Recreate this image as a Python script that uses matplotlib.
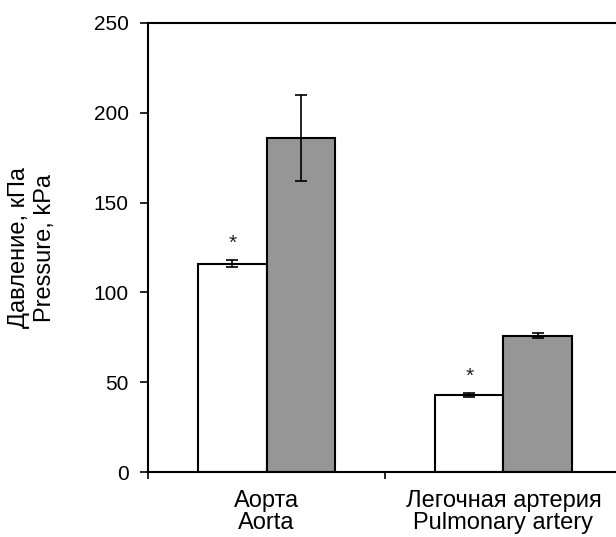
import matplotlib
matplotlib.use('Agg')
import matplotlib.pyplot as plt
import numpy as np

plt.rcParams['font.family'] = ['Liberation Sans', 'DejaVu Sans']

# data
categories = ["Аорта\nAorta", "Легочная артерия\nPulmonary artery"]
white_vals = [116, 43]
white_err = [2, 1]
grey_vals = [186, 76]
grey_err = [24, 1.5]
star_marks = ["*", "*"]   # significance over the white bars

fig = plt.figure(figsize=(6.16, 5.37), dpi=100)
ax = fig.add_axes([148/616, 1 - 472/537, 474/616, 449/537])

x = np.arange(len(categories))
w = 0.287
ebar = dict(ecolor='black', elinewidth=1.2, capsize=4.3, capthick=1.2)
ax.bar(x - w/2, white_vals, w, yerr=white_err, color='white',
       edgecolor='black', linewidth=1.5, error_kw=ebar, zorder=2)
ax.bar(x + w/2, grey_vals, w, yerr=grey_err, color='#969696',
       edgecolor='black', linewidth=1.5, error_kw=ebar, zorder=2)

for xi, v, e, s in zip(x, white_vals, white_err, star_marks):
    ax.annotate(s, (xi - w/2, v + e), xytext=(0, 5), textcoords='offset points',
                ha='center', va='bottom', fontsize=15, color='#222222')

ax.set_xlim(-0.5, len(categories) - 0.5)
ax.set_ylim(0, 250)
ax.set_yticks(np.arange(0, 251, 50))
ax.set_xticks(x)
ax.set_xticklabels(categories, fontsize=17, linespacing=1.0)
ax.set_xticks(np.arange(-0.5, len(categories), 1), minor=True)
ax.tick_params(axis='x', which='major', length=0, pad=13)
ax.tick_params(axis='x', which='minor', length=5, width=1.2, direction='out')
ax.tick_params(axis='y', labelsize=15, length=6, width=1.2, direction='out', pad=8)

for side in ['left', 'bottom', 'top']:
    ax.spines[side].set_linewidth(1.5)
ax.spines['right'].set_visible(False)

ax.set_ylabel("Давление, кПа\nPressure, kPa", fontsize=17, linespacing=1.25, labelpad=27)

plt.savefig("out.png", dpi=100)
plt.close()
